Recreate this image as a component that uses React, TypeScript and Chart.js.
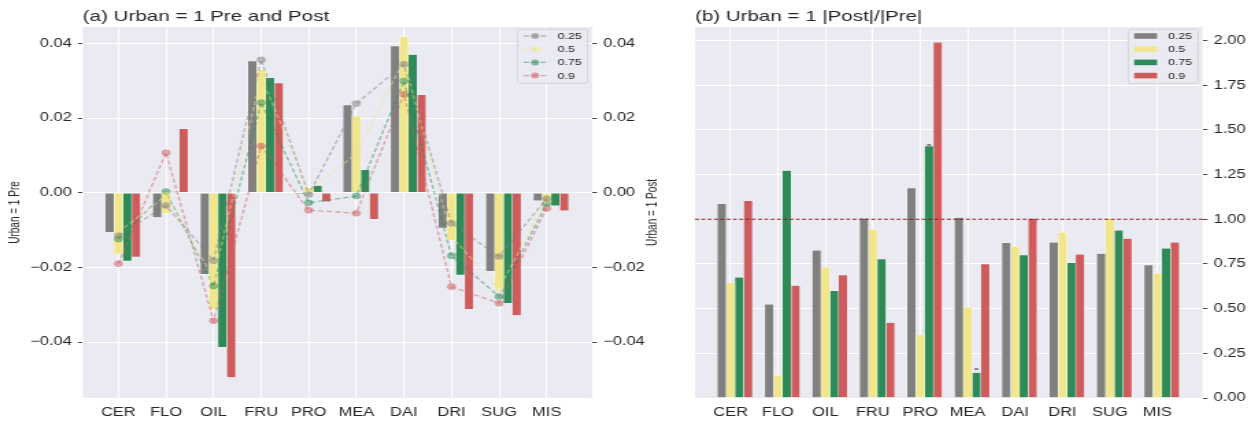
import React, { useEffect, useRef } from 'react';
import { Chart, registerables } from 'chart.js';

Chart.register(...registerables);

// ---------------- data ----------------
const categories = ['CER', 'FLO', 'OIL', 'FRU', 'PRO', 'MEA', 'DAI', 'DRI', 'SUG', 'MIS'];
const quantiles = ['0.25', '0.5', '0.75', '0.9'];

// panel (a): bars = Pre (left axis)
const pre025 = [-0.0106, -0.0066, -0.0218, 0.0353, -0.0004, 0.0235, 0.0393, -0.0094, -0.021, -0.0021];
const pre050 = [-0.0164, -0.0055, -0.0312, 0.033, 0.0013, 0.0205, 0.0418, -0.0127, -0.0256, -0.0027];
const pre075 = [-0.0183, 0.00024, -0.0414, 0.0308, 0.0019, 0.0061, 0.037, -0.022, -0.0296, -0.0035];
const pre090 = [-0.0172, 0.0171, -0.0495, 0.0294, -0.0024, -0.0071, 0.0262, -0.0312, -0.0329, -0.0048];

// panel (a): dashed lines = Post (right axis)
const post025 = [-0.0115, -0.0034, -0.0182, 0.0356, -0.0005, 0.0239, 0.0344, -0.0082, -0.0171, -0.0016];
const post050 = [-0.0106, -0.0007, -0.0229, 0.0311, 0.00045, 0.0104, 0.0355, -0.0118, -0.0257, -0.0019];
const post075 = [-0.0124, 0.0003, -0.025, 0.0241, -0.0027, -0.0009, 0.0299, -0.0169, -0.0278, -0.0029];
const post090 = [-0.019, 0.0107, -0.0343, 0.0125, -0.0047, -0.0055, 0.0264, -0.0252, -0.0296, -0.0042];

// panel (b): |Post| / |Pre|
const ratio025 = [1.086, 0.524, 0.826, 1.006, 1.175, 1.009, 0.868, 0.871, 0.808, 0.744];
const ratio050 = [0.644, 0.127, 0.733, 0.944, 0.354, 0.509, 0.849, 0.927, 1.004, 0.698];
const ratio075 = [0.675, 1.272, 0.599, 0.778, 1.41, 0.142, 0.8, 0.756, 0.938, 0.838];
const ratio090 = [1.104, 0.629, 0.688, 0.422, 1.99, 0.75, 1.004, 0.804, 0.892, 0.871];
// small capped marks visible above two 0.75 bars in panel (b)
const capCategories075 = ['PRO', 'MEA'];
const capValues075 = [1.416, 0.162];

const levelTicks = [-0.04, -0.02, 0, 0.02, 0.04];
const ratioTicks = [0, 0.25, 0.5, 0.75, 1, 1.25, 1.5, 1.75, 2];
const referenceRatio = 1;

const titleA = '(a) Urban = 1 Pre and Post';
const titleB = '(b) Urban = 1 |Post|/|Pre|';
const yTitlePre = 'Urban = 1 Pre';
const yTitlePost = 'Urban = 1 Post';

// ---------------- style / layout ----------------
const S = 1.37; // horizontal stretch of the figure
const H = 423;
const W1 = 496;
const W2 = 420;
const C2_LEFT = 680;
const FONT = "'Liberation Sans', Arial, Helvetica, sans-serif";
const TEXT = '#262626';
const BG = '#EAEAF2';
const colors = ['#808080', '#F0E68C', '#2E8B57', '#CD5C5C'];
const X_MIN = -0.749;
const X_MAX = 9.956;
const BAR_W = 0.185;
const LEVEL_MIN = -0.055;
const LEVEL_MAX = 0.0444;
const RATIO_MIN = 0;
const RATIO_MAX = 2.076;

const AREA_TOP = 27;
const AREA_BOTTOM = 398;

function rgba(hex: string, a: number) {
  const n = parseInt(hex.slice(1), 16);
  return `rgba(${(n >> 16) & 255},${(n >> 8) & 255},${n & 255},${a})`;
}

const fmtLevel = (v: number) => (v < 0 ? '\u2212' : '') + Math.abs(v).toFixed(2);

function roundRectPath(ctx: CanvasRenderingContext2D, x: number, y: number, w: number, h: number, r: number) {
  ctx.beginPath();
  ctx.moveTo(x + r, y);
  ctx.lineTo(x + w - r, y);
  ctx.quadraticCurveTo(x + w, y, x + w, y + r);
  ctx.lineTo(x + w, y + h - r);
  ctx.quadraticCurveTo(x + w, y + h, x + w - r, y + h);
  ctx.lineTo(x + r, y + h);
  ctx.quadraticCurveTo(x, y + h, x, y + h - r);
  ctx.lineTo(x, y + r);
  ctx.quadraticCurveTo(x, y, x + r, y);
  ctx.closePath();
}

function drawLegend(chart: any, kind: 'line' | 'rect') {
  const { ctx, chartArea: a } = chart;
  const w = 51;
  const h = 54;
  const x0 = a.right - 3.4 - w;
  const y0 = a.top + 2.3;
  ctx.save();
  roundRectPath(ctx, x0, y0, w, h, 2);
  ctx.fillStyle = 'rgba(234,234,242,0.85)';
  ctx.fill();
  ctx.strokeStyle = 'rgba(204,204,204,0.9)';
  ctx.lineWidth = 0.8;
  ctx.stroke();
  quantiles.forEach((lab, k) => {
    const cy = y0 + 6.7 + k * 13.2;
    const hx0 = x0 + 4.4;
    const hx1 = x0 + 21.1;
    if (kind === 'line') {
      ctx.strokeStyle = rgba(colors[k], 0.5);
      ctx.lineWidth = 1.3;
      ctx.setLineDash([4, 2.2]);
      ctx.beginPath();
      ctx.moveTo(hx0, cy);
      ctx.lineTo(hx1, cy);
      ctx.stroke();
      ctx.setLineDash([]);
      ctx.fillStyle = rgba(colors[k], 0.55);
      ctx.beginPath();
      ctx.arc((hx0 + hx1) / 2, cy, 3, 0, Math.PI * 2);
      ctx.fill();
    } else {
      ctx.fillStyle = colors[k];
      ctx.fillRect(hx0, cy - 2.8, hx1 - hx0, 5.6);
    }
    ctx.fillStyle = TEXT;
    ctx.font = `9px ${FONT}`;
    ctx.textAlign = 'left';
    ctx.textBaseline = 'middle';
    ctx.fillText(lab, x0 + 29.2, cy + 0.5);
  });
  ctx.restore();
}

function drawTitle(chart: any, text: string) {
  const { ctx, chartArea: a } = chart;
  ctx.save();
  ctx.fillStyle = TEXT;
  ctx.font = `15px ${FONT}`;
  ctx.textAlign = 'left';
  ctx.textBaseline = 'alphabetic';
  ctx.fillText(text, a.left, 20.5);
  ctx.restore();
}

function drawVerticalTitle(chart: any, text: string, x: number) {
  const { ctx, chartArea: a } = chart;
  ctx.save();
  ctx.translate(x, (a.top + a.bottom) / 2);
  ctx.rotate(-Math.PI / 2);
  ctx.fillStyle = TEXT;
  ctx.font = `10px ${FONT}`;
  ctx.textAlign = 'center';
  ctx.textBaseline = 'middle';
  ctx.fillText(text, 0, 0);
  ctx.restore();
}

const bgPlugin = {
  id: 'plotBg',
  beforeDraw(chart: any) {
    const { ctx, chartArea: a } = chart;
    ctx.save();
    ctx.fillStyle = BG;
    ctx.fillRect(a.left, a.top, a.right - a.left, a.bottom - a.top);
    ctx.restore();
  },
};

function xScale() {
  return {
    type: 'linear',
    min: X_MIN,
    max: X_MAX,
    offset: false,
    afterBuildTicks: (ax: any) => {
      ax.ticks = categories.map((_, i) => ({ value: i }));
    },
    afterFit: (ax: any) => {
      ax.height = H - AREA_BOTTOM;
    },
    grid: { color: '#ffffff', lineWidth: 1, drawTicks: false, offset: false },
    border: { display: false },
    ticks: {
      autoSkip: false,
      maxRotation: 0,
      minRotation: 0,
      padding: 7,
      color: TEXT,
      font: { size: 12, family: FONT },
      callback: (v: number) => categories[v] ?? '',
    },
  };
}

function barDatasets(series: number[][], axis: string) {
  return series.map((arr, k) => ({
    type: 'bar',
    label: quantiles[k],
    data: arr.map((v, i) => ({ x: i + (k - 1) * BAR_W, y: v })),
    backgroundColor: colors[k],
    borderColor: '#ffffff',
    borderWidth: 0.5,
    borderSkipped: false,
    grouped: false,
    categoryPercentage: 1,
    barPercentage: 1,
    yAxisID: axis,
    order: 2,
  }));
}

function lineDatasets(series: number[][], axis: string) {
  return series.map((arr, k) => ({
    type: 'line',
    label: quantiles[k],
    data: arr.map((v, i) => ({ x: i, y: v })),
    borderColor: rgba(colors[k], 0.5),
    borderWidth: 1.3,
    borderDash: [4, 2.2],
    tension: 0,
    fill: false,
    pointRadius: 3,
    pointBackgroundColor: rgba(colors[k], 0.5),
    pointBorderColor: rgba(colors[k], 0.5),
    pointBorderWidth: 0.6,
    yAxisID: axis,
    order: 1,
  }));
}

function config1(): any {
  const areaLeft = 82.7 / S;
  const areaRight = 591.7 / S;
  return {
    type: 'bar',
    data: {
      datasets: [
        ...barDatasets([pre025, pre050, pre075, pre090], 'y'),
        ...lineDatasets([post025, post050, post075, post090], 'y2'),
      ],
    },
    options: {
      responsive: false,
      animation: false,
      devicePixelRatio: 1,
      events: [],
      layout: { padding: { top: AREA_TOP, left: 0, right: 0, bottom: 0 }, autoPadding: false },
      plugins: { legend: { display: false }, tooltip: { enabled: false }, title: { display: false } },
      scales: {
        x: xScale(),
        y: {
          type: 'linear',
          position: 'left',
          min: LEVEL_MIN,
          max: LEVEL_MAX,
          afterBuildTicks: (ax: any) => {
            ax.ticks = levelTicks.map((v) => ({ value: v }));
          },
          afterFit: (ax: any) => {
            ax.width = areaLeft;
          },
          grid: { color: '#ffffff', lineWidth: 1, tickColor: '#444444', tickLength: 3.5, tickWidth: 1 },
          border: { display: false },
          ticks: { padding: 4.5, color: TEXT, font: { size: 12, family: FONT }, callback: fmtLevel },
        },
        y2: {
          type: 'linear',
          position: 'right',
          min: LEVEL_MIN,
          max: LEVEL_MAX,
          afterBuildTicks: (ax: any) => {
            ax.ticks = levelTicks.map((v) => ({ value: v }));
          },
          afterFit: (ax: any) => {
            ax.width = W1 - areaRight;
          },
          grid: { drawOnChartArea: false, tickColor: '#444444', tickLength: 3.5, tickWidth: 1 },
          border: { display: false },
          ticks: { padding: 4.5, color: TEXT, font: { size: 12, family: FONT }, callback: fmtLevel },
        },
      },
    },
    plugins: [
      bgPlugin,
      {
        id: 'decorA',
        afterDraw(chart: any) {
          drawTitle(chart, titleA);
          drawVerticalTitle(chart, yTitlePre, 16 / S);
          drawVerticalTitle(chart, yTitlePost, 652 / S);
          drawLegend(chart, 'line');
        },
      },
    ],
  };
}

function config2(): any {
  const areaLeft = (695 - C2_LEFT) / S;
  const areaRight = (1203 - C2_LEFT) / S;
  return {
    type: 'bar',
    data: {
      datasets: barDatasets([ratio025, ratio050, ratio075, ratio090], 'y'),
    },
    options: {
      responsive: false,
      animation: false,
      devicePixelRatio: 1,
      events: [],
      layout: { padding: { top: AREA_TOP, left: areaLeft, right: 0, bottom: 0 }, autoPadding: false },
      plugins: { legend: { display: false }, tooltip: { enabled: false }, title: { display: false } },
      scales: {
        x: xScale(),
        y: {
          type: 'linear',
          position: 'right',
          min: RATIO_MIN,
          max: RATIO_MAX,
          afterBuildTicks: (ax: any) => {
            ax.ticks = ratioTicks.map((v) => ({ value: v }));
          },
          afterFit: (ax: any) => {
            ax.width = W2 - areaRight;
          },
          grid: { color: '#ffffff', lineWidth: 1, tickColor: '#444444', tickLength: 3.5, tickWidth: 1 },
          border: { display: false },
          ticks: { padding: 4.5, color: TEXT, font: { size: 12, family: FONT }, callback: (v: number) => v.toFixed(2) },
        },
      },
    },
    plugins: [
      bgPlugin,
      {
        id: 'refLine',
        afterDatasetsDraw(chart: any) {
          const { ctx, chartArea: a } = chart;
          const xs = chart.scales.x;
          const ys = chart.scales.y;
          // small caps above the 0.75 bars
          ctx.save();
          ctx.strokeStyle = '#222222';
          ctx.lineWidth = 1;
          capCategories075.forEach((cat, j) => {
            const i = categories.indexOf(cat);
            const cx = xs.getPixelForValue(i + BAR_W);
            const half = (xs.getPixelForValue(BAR_W) - xs.getPixelForValue(0)) * 0.22;
            const cy = ys.getPixelForValue(capValues075[j]);
            ctx.beginPath();
            ctx.moveTo(cx - half, cy);
            ctx.lineTo(cx + half, cy);
            ctx.stroke();
          });
          const y = ys.getPixelForValue(referenceRatio);
          ctx.strokeStyle = '#8B1A1A';
          ctx.lineWidth = 1;
          ctx.setLineDash([3, 1.6]);
          ctx.beginPath();
          ctx.moveTo(a.left, y);
          ctx.lineTo(a.right, y);
          ctx.stroke();
          ctx.restore();
        },
      },
      {
        id: 'decorB',
        afterDraw(chart: any) {
          drawTitle(chart, titleB);
          drawLegend(chart, 'rect');
        },
      },
    ],
  };
}

export default function App() {
  const ref1 = useRef<HTMLCanvasElement>(null);
  const ref2 = useRef<HTMLCanvasElement>(null);

  useEffect(() => {
    Chart.defaults.font.family = FONT;
    Chart.defaults.color = TEXT;
    const c1 = new Chart(ref1.current as HTMLCanvasElement, config1());
    const c2 = new Chart(ref2.current as HTMLCanvasElement, config2());
    return () => {
      c1.destroy();
      c2.destroy();
    };
  }, []);

  return (
    <div
      style={{
        position: 'fixed',
        left: 0,
        top: 0,
        width: 1255,
        height: H,
        background: '#ffffff',
        overflow: 'hidden',
      }}
    >
      <canvas
        ref={ref1}
        width={W1}
        height={H}
        style={{ position: 'absolute', left: 0, top: 0, width: `${W1 * S}px`, height: `${H}px` }}
      />
      <canvas
        ref={ref2}
        width={W2}
        height={H}
        style={{ position: 'absolute', left: C2_LEFT, top: 0, width: `${W2 * S}px`, height: `${H}px` }}
      />
    </div>
  );
}
